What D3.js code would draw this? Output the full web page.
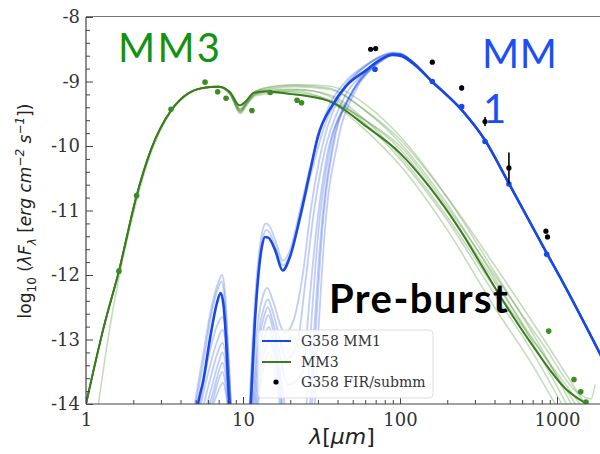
<!DOCTYPE html>
<html><head><meta charset="utf-8">
<script src="https://cdn.jsdelivr.net/npm/d3@7"></script>
<style>body{margin:0;background:#fff}svg{display:block}</style>
</head><body><svg id="c" width="600" height="454"></svg>
<script>
// ---------------- data ----------------
const xMajorTicks = [1, 10, 100, 1000];
const xTickLabels = ["1", "10", "100", "1000"];
const yMajorTicks = [-14, -13, -12, -11, -10, -9, -8];
const yTickLabels = ["-14", "-13", "-12", "-11", "-10", "-9", "-8"];

// G358 MM1 best fit (lambda [um], log10 lambda F_lambda)
const mm1Best = [[4.8,-14.6],[5.17,-14.0],[5.59,-13.63],[6.2,-12.95],[6.8,-12.45],[7.2,-12.28],[7.5,-12.45],[7.8,-13.0],[8.06,-13.73],[8.3,-14.2],[8.5,-14.6],[9.5,-16],[10.8,-14.6],[11.2,-14.0],[12.0,-12.6],[13.2,-11.56],[13.8,-11.41],[14.5,-11.42],[16.0,-11.61],[17.9,-11.93],[19.9,-11.72],[23.1,-11.1],[26.7,-10.4],[30,-9.85],[37.5,-9.35],[45,-9.08],[61.3,-8.82],[75,-8.66],[90,-8.59],[100,-8.6],[121,-8.72],[160,-9.0],[247,-9.44],[348,-9.91],[494,-10.58],[860,-11.66],[1071,-12.08],[2000,-13.35]];
const mm1Tail = [[121,-8.7],[160,-9.0],[247,-9.44],[348,-9.91],[494,-10.58],[860,-11.66],[1071,-12.08],[2000,-13.35]];
// other MM1 fits
const mm1Fit1 = [[4.6,-14.4],[5.0,-13.9],[5.6,-13.2],[6.3,-12.5],[7.0,-12.1],[7.35,-12.0],[7.7,-12.3],[8.0,-13.0],[8.3,-13.8],[8.6,-14.5],[9.5,-16],[10.8,-14.5],[11.2,-13.6],[12,-12.3],[13.2,-11.35],[14.0,-11.2],[14.8,-11.25],[16,-11.45],[18,-11.78],[20,-11.6],[23,-11.0],[27,-10.3],[35,-9.4],[45,-9.0],[60,-8.75],[75,-8.61],[90,-8.55],[100,-8.56]];
const mm1Fit2 = [[4.7,-14.4],[5.1,-13.9],[5.6,-13.35],[6.3,-12.6],[7.0,-12.18],[7.3,-12.1],[7.65,-12.4],[8.0,-13.1],[8.3,-13.9],[8.6,-14.5],[9.5,-16],[10.9,-14.5],[11.3,-13.6],[12.1,-12.4],[13.3,-11.45],[14.1,-11.3],[14.8,-11.35],[16,-11.55],[18,-11.85],[20,-11.68],[23,-11.15],[27,-10.45],[33,-9.7],[45,-9.05],[60,-8.77],[75,-8.62],[90,-8.56],[100,-8.57]];
const mm1Fit3 = [[4.7,-14.6],[5.3,-14.0],[6.0,-13.3],[6.8,-12.8],[7.4,-12.65],[7.8,-12.9],[8.2,-13.6],[8.6,-14.5],[9.5,-16],[10.9,-14.6],[11.5,-13.6],[12.5,-12.7],[13.5,-12.3],[14.3,-12.2],[15.5,-12.4],[18.5,-12.9],[21,-12.7],[24,-12.0],[27,-11.0],[32,-10.0],[40,-9.3],[50,-8.95],[65,-8.7],[90,-8.57],[100,-8.58]];
const mm1Fit4 = [[4.8,-14.6],[5.4,-14.0],[6.1,-13.45],[6.9,-13.0],[7.4,-12.85],[7.8,-13.1],[8.2,-13.8],[8.6,-14.6],[9.5,-16],[11.0,-14.6],[11.6,-13.8],[12.6,-12.9],[13.6,-12.5],[14.4,-12.38],[15.6,-12.6],[19,-13.3],[22,-13.1],[25,-12.1],[28,-11.1],[33,-10.1],[42,-9.35],[60,-8.85],[75,-8.65],[90,-8.57],[100,-8.58]];
const mm1Fit5 = [[4.8,-14.7],[5.5,-14.1],[6.2,-13.6],[6.9,-13.2],[7.4,-13.05],[7.8,-13.3],[8.2,-13.9],[8.6,-14.6],[9.5,-16],[11.0,-14.7],[11.7,-13.9],[12.7,-13.0],[13.7,-12.62],[14.4,-12.5],[15.6,-12.75],[19.5,-13.7],[24,-13.5],[26.5,-12.4],[29,-11.4],[34,-10.2],[44,-9.4],[60,-8.88],[75,-8.66],[90,-8.57],[100,-8.58]];
const mm1Fit6 = [[4.9,-14.7],[5.6,-14.2],[6.3,-13.75],[7.0,-13.35],[7.4,-13.2],[7.8,-13.45],[8.2,-14.0],[8.6,-14.7],[9.5,-16],[11.1,-14.7],[11.8,-14.0],[12.8,-13.15],[13.8,-12.75],[14.5,-12.62],[15.7,-12.9],[20,-14.3],[25,-14.1],[27.5,-12.6],[30,-11.4],[36,-10.0],[46,-9.3],[65,-8.8],[80,-8.64],[90,-8.58],[100,-8.58]];
const mm1Fit7 = [[5.0,-14.7],[5.7,-14.25],[6.4,-13.85],[7.0,-13.5],[7.4,-13.36],[7.8,-13.6],[8.2,-14.1],[8.6,-14.7],[9.5,-16],[11.2,-14.7],[11.9,-14.1],[12.9,-13.3],[13.9,-12.92],[14.6,-12.8],[15.8,-13.1],[20,-14.6],[26,-14.3],[28.5,-12.8],[31,-11.5],[37,-10.0],[48,-9.25],[65,-8.82],[80,-8.65],[90,-8.58],[100,-8.58]];
const mm1Fit8 = [[5.1,-14.7],[5.8,-14.3],[6.5,-13.9],[7.0,-13.62],[7.4,-13.5],[7.8,-13.75],[8.2,-14.2],[8.6,-14.8],[9.5,-16],[11.3,-14.8],[12.0,-14.2],[13.0,-13.45],[14.0,-13.1],[14.7,-13.0],[16,-13.3],[20,-14.8],[27,-14.2],[29.5,-12.6],[32,-11.3],[38,-9.95],[50,-9.15],[70,-8.72],[90,-8.58],[100,-8.58]];
const mm1Fit9 = [[5.2,-14.7],[5.9,-14.35],[6.6,-13.95],[7.1,-13.75],[7.45,-13.67],[7.85,-13.9],[8.2,-14.3],[8.6,-14.8],[9.5,-16],[11.4,-14.8],[12.1,-14.3],[13.1,-13.6],[14.1,-13.28],[14.8,-13.2],[16,-13.5],[20,-15],[28,-14.3],[30.5,-12.7],[33,-11.4],[40,-9.95],[52,-9.15],[72,-8.72],[90,-8.58],[100,-8.58]];

// MM3 best fit
const mm3Best = [[1,-14.0],[1.3,-12.8],[1.62,-11.94],[2.1,-10.77],[2.6,-10.05],[3.48,-9.45],[4.5,-9.18],[5.5,-9.10],[7.0,-9.08],[8.3,-9.17],[9.5,-9.37],[10.5,-9.3],[11.6,-9.18],[14,-9.15],[18,-9.18],[23,-9.21],[37.5,-9.33],[61.3,-9.70],[100,-10.11],[150,-10.6],[241,-11.3],[350,-11.95],[478,-12.49],[707,-13.11],[1153,-13.78],[1523,-13.99]];
const mm3Short = [[1,-14.0],[1.3,-12.8],[1.62,-11.94],[2.1,-10.77],[2.6,-10.05],[3.48,-9.45],[4.5,-9.18],[5.5,-9.10],[7.0,-9.08]];
const mm3ShortAlt = [[1.2,-14.0],[1.4,-12.9],[1.7,-11.8],[2.1,-10.85],[2.6,-10.1],[3.48,-9.47],[4.5,-9.19],[5.5,-9.11],[7.0,-9.09]];
const mm3Fit1 = [[8.3,-9.2],[9.6,-9.47],[10.6,-9.35],[12,-9.2],[16,-9.15],[22,-9.15],[35,-9.3],[60,-9.75],[100,-10.3],[200,-11.3],[400,-12.5],[700,-13.4],[1000,-14.05]];
const mm3Fit2 = [[8.3,-9.18],[9.6,-9.44],[10.6,-9.33],[12,-9.18],[16,-9.12],[22,-9.12],[35,-9.22],[60,-9.65],[100,-10.2],[200,-11.15],[400,-12.3],[700,-13.2],[1100,-14.05]];
const mm3Fit3 = [[8.3,-9.19],[9.6,-9.45],[10.6,-9.3],[12,-9.15],[16,-9.08],[22,-9.06],[35,-9.1],[60,-9.45],[100,-9.95],[200,-10.9],[400,-12.05],[800,-13.3],[1180,-14.05]];
const mm3Fit4 = [[8.3,-9.2],[9.6,-9.48],[10.6,-9.32],[12,-9.15],[16,-9.07],[22,-9.05],[35,-9.07],[60,-9.35],[100,-9.85],[200,-10.8],[400,-11.95],[800,-13.15],[1260,-14.05]];
const mm3Fit5 = [[8.3,-9.17],[9.6,-9.42],[10.6,-9.3],[12,-9.18],[16,-9.15],[22,-9.17],[35,-9.28],[60,-9.6],[100,-10.05],[200,-11.0],[400,-12.1],[800,-13.2],[1350,-14.05]];
const mm3Fit6 = [[8.3,-9.19],[9.6,-9.46],[10.6,-9.34],[12,-9.2],[16,-9.14],[22,-9.13],[35,-9.2],[60,-9.6],[100,-10.15],[200,-11.1],[400,-12.2],[800,-13.2],[1450,-14.05]];
const mm3Fit7 = [[8.3,-9.18],[9.6,-9.43],[10.6,-9.31],[12,-9.16],[16,-9.1],[22,-9.08],[35,-9.12],[60,-9.45],[100,-9.9],[200,-10.8],[400,-11.85],[800,-12.95],[1550,-14.05]];
const mm3Fit8 = [[8.3,-9.2],[9.6,-9.5],[10.6,-9.36],[12,-9.22],[16,-9.18],[22,-9.2],[35,-9.3],[60,-9.6],[100,-10.0],[200,-10.95],[400,-12.0],[800,-13.05],[1400,-13.85],[1650,-13.92],[1750,-13.7]];

// observed photometry
const mm3Data = [[1.62,-11.94],[2.1,-10.77],[3.48,-9.43],[5.73,-9.01],[6.9,-9.16],[7.8,-9.26],[11.4,-9.45],[14.9,-9.17],[22.1,-9.29],[23.6,-9.33],[885,-12.87],[1283,-13.62],[1416,-13.81],[1531,-13.97]];
const mm1Data = [[69.3,-8.81],[160.6,-9.0],[247,-9.39],[348,-9.93],[494,-10.59],[860,-11.68]];
const firLam = [65, 70, 160.6, 247, 348, 494, 850, 870];
const firVal = [-8.50, -8.49, -8.70, -9.10, -9.62, -10.34, -11.32, -11.41];
const firErr = [0, 0, 0, 0.04, 0.07, 0.24, 0, 0];

const legendLabels = ["G358 MM1", "MM3", "G358 FIR/submm"];

// ---------------- drawing ----------------
const svg = d3.select("#c");
const L = 86, T = 17, B = 404;
const x = d3.scaleLog().domain([1, 2000]).range([L, L + 157 * Math.log10(2000)]);
const y = d3.scaleLinear().domain([-14, -8]).range([B, T]);

const blue = "#1848e6", green = "#3a7d1e", dotGreen = "#3d8c20";

svg.append("defs").append("clipPath").attr("id", "pc")
  .append("rect").attr("x", L).attr("y", T).attr("width", 600 - L).attr("height", B - T);

const plot = svg.append("g").attr("clip-path", "url(#pc)");
const line = d3.line().x(d => x(d[0])).y(d => y(d[1])).curve(d3.curveMonotoneX);

const greenFits = [mm3Fit1, mm3Fit2, mm3Fit3, mm3Fit4, mm3Fit5, mm3Fit6, mm3Fit7, mm3Fit8];
greenFits.forEach((t, i) => {
  const pts = (i === 3 ? mm3ShortAlt : mm3Short).concat(t);
  plot.append("path").attr("d", line(pts)).attr("fill", "none")
    .attr("stroke", "#4f8f33").attr("stroke-opacity", 0.32).attr("stroke-width", 1.6);
});
const blueFits = [mm1Fit1, mm1Fit2, mm1Fit3, mm1Fit4, mm1Fit5, mm1Fit6, mm1Fit7, mm1Fit8, mm1Fit9];
blueFits.forEach(f => {
  plot.append("path").attr("d", line(f.concat(mm1Tail))).attr("fill", "none")
    .attr("stroke", blue).attr("stroke-opacity", 0.27).attr("stroke-width", 1.8);
});
plot.append("path").attr("d", line(mm3Best)).attr("fill", "none").attr("stroke", green).attr("stroke-width", 2);
plot.append("path").attr("d", line(mm1Best)).attr("fill", "none").attr("stroke", blue).attr("stroke-width", 2.6);

plot.selectAll(".g").data(mm3Data).enter().append("circle")
  .attr("cx", d => x(d[0])).attr("cy", d => y(d[1])).attr("r", 2.8).attr("fill", dotGreen);
plot.selectAll(".b").data(mm1Data).enter().append("circle")
  .attr("cx", d => x(d[0])).attr("cy", d => y(d[1])).attr("r", 2.8).attr("fill", blue);
firLam.forEach((l, i) => {
  if (firErr[i] > 0) plot.append("line").attr("x1", x(l)).attr("x2", x(l))
    .attr("y1", y(firVal[i] - firErr[i])).attr("y2", y(firVal[i] + firErr[i]))
    .attr("stroke", "#000").attr("stroke-width", 1.6);
  plot.append("circle").attr("cx", x(l)).attr("cy", y(firVal[i])).attr("r", 2.6).attr("fill", "#000");
});

// axes
const axCol = "#444";
const xMinor = [];
[1, 10, 100, 1000].forEach(d => { for (let k = 2; k <= 9; k++) if (d * k <= 2000) xMinor.push(d * k); });
const yMinor = d3.range(-14, -8.001, 0.2).filter(v => Math.abs(v - Math.round(v)) > 0.01);

const gx = svg.append("g").attr("transform", `translate(0,${B})`);
gx.call(d3.axisBottom(x).tickValues(xMinor).tickSize(-4).tickFormat(""));
gx.call(g => g.append("g").call(d3.axisBottom(x).tickValues(xMajorTicks).tickSize(-7)
  .tickFormat((d, i) => xTickLabels[i]).tickPadding(9)));
const gy = svg.append("g").attr("transform", `translate(${L},0)`);
gy.call(d3.axisLeft(y).tickValues(yMinor).tickSize(-4).tickFormat(""));
gy.call(g => g.append("g").call(d3.axisLeft(y).tickValues(yMajorTicks).tickSize(-7)
  .tickFormat((d, i) => yTickLabels[i]).tickPadding(6)));
svg.selectAll(".domain").remove();
svg.selectAll(".tick line").attr("stroke", axCol);
svg.selectAll(".tick text").attr("font-family", "DejaVu Serif").attr("font-size", 18).attr("fill", "#333");
svg.append("line").attr("x1", L).attr("x2", 600).attr("y1", B).attr("y2", B).attr("stroke", axCol).attr("stroke-width", 1.2);
svg.append("line").attr("x1", L).attr("x2", L).attr("y1", T).attr("y2", B).attr("stroke", axCol).attr("stroke-width", 1.2);
svg.append("line").attr("x1", L).attr("x2", 600).attr("y1", T - 0.5).attr("y2", T - 0.5).attr("stroke", "#777").attr("stroke-width", 1);

// axis labels
const xl = svg.append("text").attr("x", 342).attr("y", 444).attr("text-anchor", "middle")
  .attr("font-family", "DejaVu Sans").attr("font-size", 22).attr("fill", "#222");
xl.append("tspan").attr("font-style", "italic").text("λ");
xl.append("tspan").text("[");
xl.append("tspan").attr("font-style", "italic").text("μm");
xl.append("tspan").text("]");

const yl = svg.append("text").attr("transform", "translate(31,211) rotate(-90)").attr("text-anchor", "middle")
  .attr("font-family", "DejaVu Sans").attr("font-size", 17).attr("fill", "#222");
yl.append("tspan").text("log");
yl.append("tspan").attr("font-size", 12).attr("dy", 5).text("10");
yl.append("tspan").attr("dy", -5).text(" (");
yl.append("tspan").attr("font-style", "italic").text("λF");
yl.append("tspan").attr("font-style", "italic").attr("font-size", 12).attr("dy", 5).text("λ");
yl.append("tspan").attr("dy", -5).text(" [");
yl.append("tspan").attr("font-style", "italic").text("erg cm");
yl.append("tspan").attr("font-style", "italic").attr("font-size", 12).attr("dy", -7).text("−2");
yl.append("tspan").attr("font-style", "italic").attr("dy", 7).text(" s");
yl.append("tspan").attr("font-style", "italic").attr("font-size", 12).attr("dy", -7).text("−1");
yl.append("tspan").attr("dy", 7).text("])");

// legend
const lg = svg.append("g");
lg.append("rect").attr("x", 258).attr("y", 330).attr("width", 175).attr("height", 68).attr("rx", 4)
  .attr("fill", "#fff").attr("fill-opacity", 0.82).attr("stroke", "#ddd");
const rows = [341, 362, 382];
lg.append("line").attr("x1", 262).attr("x2", 291).attr("y1", rows[0]).attr("y2", rows[0]).attr("stroke", blue).attr("stroke-width", 2);
lg.append("line").attr("x1", 262).attr("x2", 291).attr("y1", rows[1]).attr("y2", rows[1]).attr("stroke", green).attr("stroke-width", 2);
lg.append("circle").attr("cx", 276).attr("cy", rows[2]).attr("r", 2.6).attr("fill", "#000");
legendLabels.forEach((t, i) => lg.append("text").attr("x", 301).attr("y", rows[i] + 5)
  .attr("font-family", "DejaVu Serif").attr("font-size", 14).attr("fill", "#333").text(t));

// annotations
svg.append("text").attr("x", 118).attr("y", 62).attr("font-family", "Lato").attr("font-size", 40)
  .attr("fill", "#129312").attr("textLength", 102).text("MM3");
svg.append("text").attr("x", 482).attr("y", 68).attr("font-family", "Lato").attr("font-size", 40)
  .attr("fill", "#1c4ef5").attr("textLength", 75).text("MM");
svg.append("text").attr("x", 483).attr("y", 123).attr("font-family", "Lato").attr("font-size", 40)
  .attr("fill", "#1c4ef5").text("1");
svg.append("text").attr("x", 329).attr("y", 313).attr("font-family", "Lato").attr("font-weight", "bold").attr("font-size", 40)
  .attr("fill", "#000").attr("textLength", 179).text("Pre-burst");
</script></body></html>
